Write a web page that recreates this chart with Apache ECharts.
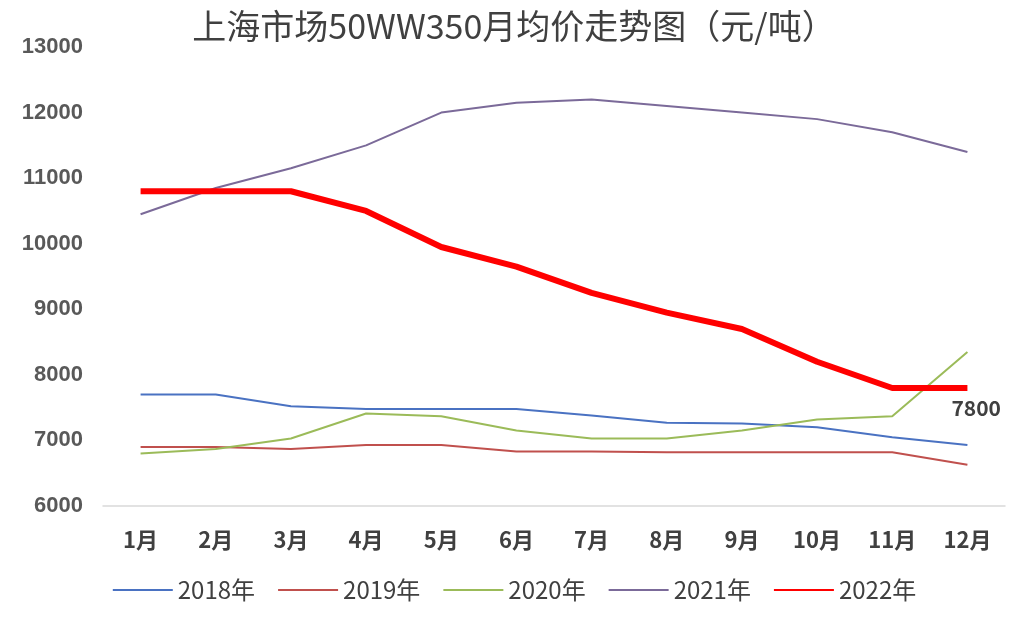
<!DOCTYPE html>
<html>
<head>
<meta charset="utf-8">
<script src="https://cdn.jsdelivr.net/npm/echarts@6/dist/echarts.min.js"></script>
<style>
html,body{margin:0;padding:0;background:#fff;}
#c{width:1028px;height:621px;}
</style>
</head>
<body>
<div id="c"></div>
<script>
const months = ['1月','2月','3月','4月','5月','6月','7月','8月','9月','10月','11月','12月'];
const yTicks = [6000, 7000, 8000, 9000, 10000, 11000, 12000, 13000];
const s2018 = [7700, 7700, 7520, 7480, 7480, 7480, 7380, 7270, 7260, 7200, 7050, 6930];
const s2019 = [6900, 6900, 6870, 6930, 6930, 6830, 6830, 6820, 6820, 6820, 6820, 6630];
const s2020 = [6800, 6870, 7030, 7410, 7370, 7150, 7030, 7030, 7150, 7320, 7370, 8350];
const s2021 = [10450, 10850, 11150, 11500, 12000, 12150, 12200, 12100, 12000, 11900, 11700, 11400];
const s2022 = [10800, 10800, 10800, 10500, 9950, 9650, 9250, 8950, 8700, 8200, 7800, 7800];
const seriesNames = ['2018年','2019年','2020年','2021年','2022年'];
const titleText = '上海市场50WW350月均价走势图（元/吨）';

const font = '"Noto Sans CJK SC", "Noto Sans", sans-serif';
const chart = echarts.init(document.getElementById('c'));
const thin = (name, data, color) => ({
  name, type: 'line', data, symbol: 'none', smooth: false,
  lineStyle: { color, width: 2 }, itemStyle: { color }
});
chart.setOption({
  animation: false,
  backgroundColor: '#ffffff',
  title: {
    text: titleText, left: 'center', top: 4,
    textStyle: { fontFamily: font, fontSize: 34, fontWeight: 'normal', color: '#404040' }
  },
  legend: {
    data: seriesNames, bottom: 14, left: 'center', itemWidth: 60, itemHeight: 6, itemGap: 22,
    itemStyle: { opacity: 0 },
    textStyle: { fontFamily: font, fontSize: 24, color: '#404040' }
  },
  grid: { left: 103, right: 23, top: 47, bottom: 115, containLabel: false },
  xAxis: {
    type: 'category', data: months, boundaryGap: true,
    axisLine: { lineStyle: { color: '#d9d9d9', width: 1.5 } },
    axisTick: { show: false },
    axisLabel: { fontFamily: font, fontSize: 22, fontWeight: 'bold', color: '#404040', margin: 23 }
  },
  yAxis: {
    type: 'value', min: yTicks[0], max: yTicks[yTicks.length - 1], interval: 1000,
    axisLine: { show: false }, axisTick: { show: false }, splitLine: { show: false },
    axisLabel: {
      formatter: v => String(v),
      fontFamily: 'Liberation Sans, sans-serif', fontSize: 22, fontWeight: 'bold', color: '#595959', margin: 20
    }
  },
  series: [
    thin(seriesNames[0], s2018, '#4a72c2'),
    thin(seriesNames[1], s2019, '#c0504d'),
    thin(seriesNames[2], s2020, '#9bbb59'),
    thin(seriesNames[3], s2021, '#7b6a99'),
    {
      name: seriesNames[4], type: 'line', data: s2022, symbol: 'none',
      lineStyle: { color: '#ff0000', width: 6 }, itemStyle: { color: '#ff0000' }, z: 5,
      endLabel: {
        show: true, formatter: '{c}', offset: [-24, 20],
        fontFamily: font, fontSize: 21, fontWeight: 'bold', color: '#404040'
      }
    }
  ]
});
</script>
</body>
</html>
